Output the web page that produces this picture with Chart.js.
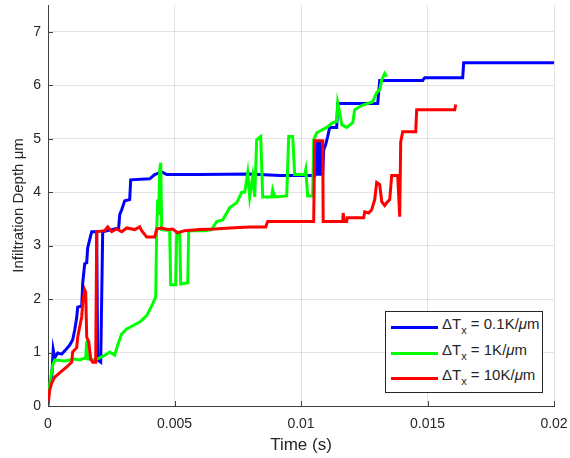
<!DOCTYPE html>
<html>
<head>
<meta charset="utf-8">
<script src="https://cdn.jsdelivr.net/npm/chart.js@4.4.1/dist/chart.umd.min.js"></script>
<style>
    body { margin: 0; background: #fff; }
    #wrap { position: relative; width: 570px; height: 458px; }
    #legend {
        position: absolute; left: 385px; top: 311px; width: 156px; height: 80px;
        border: 1px solid #262626; background: #fff;
        font-family: "Liberation Sans", Arial, sans-serif; font-size: 15px; color: #262626;
    }
    .row { position: absolute; left: 0; height: 20px; line-height: 20px; white-space: nowrap; }
    .swatch { position: absolute; left: 5px; top: 9px; width: 47px; height: 3px; }
    .txt { position: absolute; left: 56px; top: -3px; }
    .txt sub { font-size: 11px; vertical-align: -5px; }
</style>
</head>
<body>
<div id="wrap">
    <canvas id="chart" width="570" height="458"></canvas>
    <div id="legend"></div>
</div>
<script>
// time in seconds, depth in micrometres
const blueTime = [0, 0.000067, 0.000146, 0.000206, 0.000265, 0.000383, 0.000542, 0.000700, 0.000858, 0.000976,
    0.001055, 0.001134, 0.001174, 0.001332, 0.001372, 0.001451, 0.001530, 0.001569, 0.001648, 0.001727,
    0.001925, 0.001964, 0.002083, 0.002162, 0.002360, 0.002636, 0.002794, 0.002834, 0.002913, 0.003032,
    0.003229, 0.003269, 0.004020, 0.004217, 0.004494, 0.004692, 0.005996, 0.007972, 0.009158, 0.010541,
    0.010581, 0.010621, 0.010680, 0.010739, 0.010798, 0.010858, 0.010897, 0.010976, 0.011055, 0.011134,
    0.011411, 0.011451, 0.013032, 0.013111, 0.014810, 0.014889, 0.016391, 0.016431, 0.02];
const blueDepth = [0.19, 0.34, 0.52, 1.05, 0.9, 0.99, 0.97, 1.05, 1.14, 1.24,
    1.42, 1.65, 1.85, 1.87, 2.3, 2.66, 2.68, 2.96, 3.11, 3.26,
    3.26, 0.86, 0.82, 3.26, 3.28, 3.31, 3.33, 3.58, 3.67, 3.84,
    3.86, 4.23, 4.25, 4.33, 4.38, 4.33, 4.33, 4.34, 4.31, 4.31,
    4.94, 4.31, 4.94, 4.31, 4.94, 4.31, 4.79, 4.89, 5.04, 5.21,
    5.21, 5.66, 5.66, 6.09, 6.09, 6.14, 6.14, 6.42, 6.42];

const greenTime = [0, 0.000067, 0.000186, 0.000265, 0.000660, 0.001055, 0.001253, 0.001490, 0.001530, 0.001569,
    0.001846, 0.002043, 0.002241, 0.002439, 0.002636, 0.002755, 0.002913, 0.003111, 0.003348, 0.003625,
    0.003901, 0.004138, 0.004257, 0.004296, 0.004336, 0.004375, 0.004415, 0.004455, 0.004494, 0.004810,
    0.004850, 0.005047, 0.005087, 0.005206, 0.005245, 0.005522, 0.005561, 0.006194, 0.006470, 0.006668,
    0.006905, 0.007182, 0.007458, 0.007656, 0.007775, 0.007893, 0.007972, 0.008091, 0.008170, 0.008249,
    0.008407, 0.008486, 0.008842, 0.008881, 0.008960, 0.009435, 0.009514, 0.009672, 0.009751, 0.010146,
    0.010186, 0.010265, 0.010462, 0.010502, 0.010621, 0.011016, 0.011253, 0.011411, 0.011451, 0.011530,
    0.011609, 0.011806, 0.012044, 0.012122, 0.012399, 0.012834, 0.012992, 0.013111, 0.013190, 0.013308,
    0.013387];
const greenDepth = [0.07, 0.39, 0.77, 0.86, 0.84, 0.88, 0.86, 0.9, 1.22, 0.88,
    0.86, 0.9, 0.95, 1.01, 0.95, 1.14, 1.35, 1.44, 1.5, 1.57,
    1.69, 1.91, 2.04, 3.3, 3.86, 3.58, 4.42, 4.55, 3.3, 3.28,
    2.27, 2.27, 3.22, 3.22, 2.28, 2.3, 3.28, 3.28, 3.3, 3.45,
    3.48, 3.71, 3.8, 4.0, 4.0, 4.36, 3.91, 4.29, 3.91, 4.98,
    5.04, 3.91, 3.91, 4.04, 3.91, 3.93, 5.04, 5.04, 4.33, 4.33,
    4.42, 3.93, 3.93, 4.98, 5.11, 5.21, 5.3, 5.32, 5.67, 5.49,
    5.26, 5.21, 5.3, 5.54, 5.62, 5.69, 5.86, 5.92, 6.1, 6.22,
    6.16];

const redTime = [0, 0.000067, 0.000146, 0.000265, 0.000462, 0.000739, 0.000937, 0.000976, 0.001134, 0.001174,
    0.001332, 0.001372, 0.001451, 0.001490, 0.001530, 0.001609, 0.001688, 0.001767, 0.001885, 0.001925,
    0.002241, 0.002360, 0.002518, 0.002715, 0.002913, 0.003111, 0.003427, 0.003625, 0.003704, 0.003901,
    0.004217, 0.004296, 0.004494, 0.004731, 0.004929, 0.005126, 0.005403, 0.005996, 0.006589, 0.007182,
    0.007972, 0.008605, 0.008684, 0.010502, 0.010541, 0.010858, 0.010877, 0.011648, 0.011668, 0.011707,
    0.011806, 0.011826, 0.012478, 0.012518, 0.012676, 0.012794, 0.012913, 0.012992, 0.013111, 0.013190,
    0.013308, 0.013387, 0.013506, 0.013585, 0.013822, 0.013901, 0.013941, 0.014020, 0.014534, 0.014573,
    0.016075, 0.016115];
const redDepth = [0, 0.3, 0.43, 0.54, 0.62, 0.73, 0.82, 1.01, 1.09, 1.29,
    1.67, 1.93, 2.17, 2.13, 1.29, 1.2, 0.88, 0.82, 0.82, 3.26,
    3.28, 3.35, 3.26, 3.31, 3.26, 3.33, 3.3, 3.35, 3.28, 3.16,
    3.16, 3.31, 3.33, 3.3, 3.31, 3.24, 3.28, 3.3, 3.31, 3.33,
    3.35, 3.35, 3.45, 3.45, 4.96, 4.96, 3.45, 3.45, 3.61, 3.45,
    3.45, 3.52, 3.52, 3.63, 3.61, 3.67, 3.86, 4.18, 4.14, 3.82,
    3.75, 3.8, 3.86, 4.31, 4.31, 3.54, 4.94, 5.13, 5.13, 5.54,
    5.54, 5.64];

const xTicks = [0, 0.005, 0.01, 0.015, 0.02];
const xTickLabels = ['0', '0.005', '0.01', '0.015', '0.02'];
const yTicks = [0, 1, 2, 3, 4, 5, 6, 7];

const seriesLabels = ['ΔTx = 0.1K/μm', 'ΔTx = 1K/μm', 'ΔTx = 10K/μm'];
const legendValues = ['0.1', '1', '10'];
const seriesColors = ['#0000ff', '#00ff00', '#ff0000'];

function toPoints(xs, ys) {
    let pts = [];
    for (let i = 0; i < xs.length; i++) {
        pts.push({ x: xs[i], y: ys[i] });
    }
    return pts;
}

const fontFamily = '"Liberation Sans", Arial, sans-serif';
const axisColor = '#404040';
const textColor = '#262626';
const gridColor = 'rgba(38,38,38,0.13)';

// MATLAB style tick marks pointing into the plot
const innerTicks = {
    id: 'innerTicks',
    afterDraw(chart) {
        const ctx = chart.ctx;
        const area = chart.chartArea;
        const xs = chart.scales.x, ys = chart.scales.y;
        ctx.save();
        ctx.strokeStyle = axisColor;
        ctx.lineWidth = 1;
        ctx.beginPath();
        xTicks.forEach(v => {
            let px = Math.round(xs.getPixelForValue(v)) + 0.5;
            ctx.moveTo(px, area.bottom);
            ctx.lineTo(px, area.bottom - 5);
        });
        yTicks.forEach(v => {
            let py = Math.round(ys.getPixelForValue(v)) + 0.5;
            ctx.moveTo(area.left, py);
            ctx.lineTo(area.left + 5, py);
        });
        ctx.stroke();
        ctx.restore();
    }
};

const ctx = document.getElementById('chart').getContext('2d');
const chart = new Chart(ctx, {
    type: 'scatter',
    data: {
        datasets: [{
            label: seriesLabels[0],
            data: toPoints(blueTime, blueDepth),
            borderColor: seriesColors[0],
            order: 3
        }, {
            label: seriesLabels[1],
            data: toPoints(greenTime, greenDepth),
            borderColor: seriesColors[1],
            order: 2
        }, {
            label: seriesLabels[2],
            data: toPoints(redTime, redDepth),
            borderColor: seriesColors[2],
            order: 1
        }]
    },
    options: {
        responsive: false,
        animation: false,
        showLine: true,
        elements: {
            point: { radius: 0, hoverRadius: 0 },
            line: { borderWidth: 3, tension: 0, borderJoinStyle: 'miter' }
        },
        layout: { padding: { top: 5, right: 16, left: 0, bottom: 0 } },
        plugins: {
            legend: { display: false },
            tooltip: { enabled: false }
        },
        scales: {
            x: {
                type: 'linear',
                min: 0,
                max: 0.02,
                afterBuildTicks: scale => { scale.ticks = xTicks.map(v => ({ value: v })); },
                afterFit: scale => {
                    scale.height = 52;
                    scale.paddingLeft = 0;
                    scale.paddingRight = 0;
                },
                ticks: {
                    callback: (v, i) => xTickLabels[i],
                    font: { family: fontFamily, size: 14 },
                    color: textColor,
                    padding: 10,
                    maxRotation: 0
                },
                grid: { color: gridColor, drawTicks: false },
                border: { color: axisColor },
                title: {
                    display: true,
                    text: 'Time (s)',
                    font: { family: fontFamily, size: 17 },
                    color: textColor,
                    padding: { top: 0, bottom: 2 }
                }
            },
            y: {
                min: 0,
                max: 7.5,
                afterBuildTicks: scale => { scale.ticks = yTicks.map(v => ({ value: v })); },
                afterFit: scale => {
                    scale.width = 48;
                    scale.paddingTop = 0;
                    scale.paddingBottom = 0;
                },
                ticks: {
                    font: { family: fontFamily, size: 14 },
                    color: textColor,
                    padding: 7
                },
                grid: { color: gridColor, drawTicks: false },
                border: { color: axisColor },
                title: {
                    display: true,
                    text: 'Infiltration Depth μm',
                    font: { family: fontFamily, size: 15 },
                    color: textColor,
                    padding: { top: 9.5, bottom: 0 }
                }
            }
        }
    },
    plugins: [innerTicks]
});

// legend with subscripts, built from the dataset colours
let legendEl = document.getElementById('legend');
chart.data.datasets.forEach((ds, i) => {
    let row = document.createElement('div');
    row.className = 'row';
    row.style.top = (5 + i * 25.5) + 'px';
    row.style.width = '156px';
    let sw = document.createElement('span');
    sw.className = 'swatch';
    sw.style.background = ds.borderColor;
    let txt = document.createElement('span');
    txt.className = 'txt';
    txt.innerHTML = 'ΔT<sub>x</sub> = ' + legendValues[i] + 'K/<i>μ</i>m';
    row.appendChild(sw);
    row.appendChild(txt);
    legendEl.appendChild(row);
});
</script>
</body>
</html>
